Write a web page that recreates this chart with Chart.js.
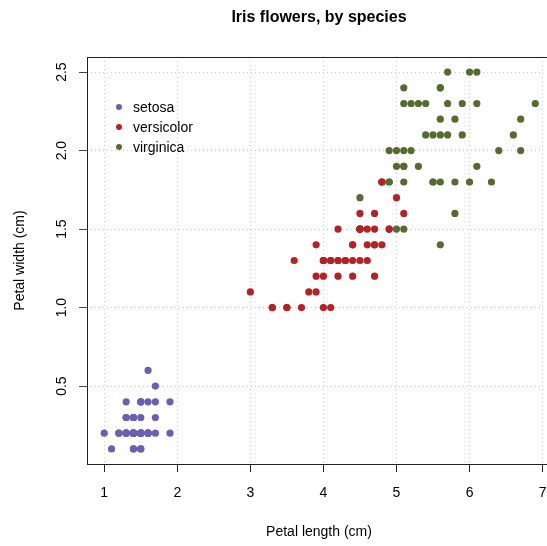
<!DOCTYPE html>
<html>
<head>
<meta charset="utf-8">
<script src="https://cdn.jsdelivr.net/npm/chart.js@4/dist/chart.umd.min.js"></script>
<style>
  html, body { margin: 0; padding: 0; background: #fff; }
  #wrap { width: 547px; height: 546px; }
</style>
</head>
<body>
<div id="wrap"><canvas id="irisChart" width="547" height="546"></canvas></div>
<script>
// petal measurements per species
const setosaLength = [1.4,1.4,1.3,1.5,1.4,1.7,1.4,1.5,1.4,1.5,1.5,1.6,1.4,1.1,1.2,1.5,1.3,1.4,1.7,1.5,1.7,1.5,1.0,1.7,1.9,1.6,1.6,1.5,1.4,1.6,1.6,1.5,1.5,1.4,1.5,1.2,1.3,1.4,1.3,1.5,1.3,1.3,1.3,1.6,1.9,1.4,1.6,1.4,1.5,1.4];
const setosaWidth = [0.2,0.2,0.2,0.2,0.2,0.4,0.3,0.2,0.2,0.1,0.2,0.2,0.1,0.1,0.2,0.4,0.4,0.3,0.3,0.3,0.2,0.4,0.2,0.5,0.2,0.2,0.4,0.2,0.2,0.2,0.2,0.4,0.1,0.2,0.2,0.2,0.2,0.1,0.2,0.2,0.3,0.3,0.2,0.6,0.4,0.3,0.2,0.2,0.2,0.2];
const versicolorLength = [4.7,4.5,4.9,4.0,4.6,4.5,4.7,3.3,4.6,3.9,3.5,4.2,4.0,4.7,3.6,4.4,4.5,4.1,4.5,3.9,4.8,4.0,4.9,4.7,4.3,4.4,4.8,5.0,4.5,3.5,3.8,3.7,3.9,5.1,4.5,4.5,4.7,4.4,4.1,4.0,4.4,4.6,4.0,3.3,4.2,4.2,4.2,4.3,3.0,4.1];
const versicolorWidth = [1.4,1.5,1.5,1.3,1.5,1.3,1.6,1.0,1.3,1.4,1.0,1.5,1.0,1.4,1.3,1.4,1.5,1.0,1.5,1.1,1.8,1.3,1.5,1.2,1.3,1.4,1.4,1.7,1.5,1.0,1.1,1.0,1.2,1.6,1.5,1.6,1.5,1.3,1.3,1.3,1.2,1.4,1.2,1.0,1.3,1.2,1.3,1.3,1.1,1.3];
const virginicaLength = [6.0,5.1,5.9,5.6,5.8,6.6,4.5,6.3,5.8,6.1,5.1,5.3,5.5,5.0,5.1,5.3,5.5,6.7,6.9,5.0,5.7,4.9,6.7,4.9,5.7,6.0,4.8,4.9,5.6,5.8,6.1,6.4,5.6,5.1,5.6,6.1,5.6,5.5,4.8,5.4,5.6,5.1,5.1,5.9,5.7,5.2,5.0,5.2,5.4,5.1];
const virginicaWidth = [2.5,1.9,2.1,1.8,2.2,2.1,1.7,1.8,1.8,2.5,2.0,1.9,2.1,2.0,2.4,2.3,1.8,2.2,2.3,1.5,2.3,2.0,2.0,1.8,2.1,1.8,1.8,1.8,2.1,1.6,1.9,2.0,2.2,1.5,1.4,2.3,2.4,1.8,1.8,2.1,2.4,2.3,1.9,2.3,2.5,2.3,1.9,2.0,2.3,1.8];

const species = ["setosa", "versicolor", "virginica"];
const colors = ["#6a5fb0", "#b22226", "#556b2f"];
const xTicks = [1, 2, 3, 4, 5, 6, 7];
const yTicks = [0.5, 1.0, 1.5, 2.0, 2.5];

const FONT = "'Liberation Sans', Arial, Helvetica, sans-serif";

function toPoints(xs, ys) {
    return xs.map((x, i) => ({ x: x, y: ys[i] }));
}

const seriesData = [
    toPoints(setosaLength, setosaWidth),
    toPoints(versicolorLength, versicolorWidth),
    toPoints(virginicaLength, virginicaWidth)
];

// title, box, rotated y labels, axis titles and legend
const decorPlugin = {
    id: "decor",
    afterDraw(chart) {
        const ctx = chart.ctx;
        const area = chart.chartArea;
        const yScale = chart.scales.y;
        const midX = area.left + 232;
        ctx.save();

        ctx.strokeStyle = "#222";
        ctx.lineWidth = 1;
        ctx.strokeRect(area.left + 0.5, area.top + 0.5, area.right - area.left + 20, area.bottom - area.top);

        ctx.fillStyle = "#000";
        ctx.textAlign = "center";
        ctx.textBaseline = "middle";
        ctx.font = "bold 16px " + FONT;
        ctx.fillText("Iris flowers, by species", midX, 18);

        ctx.font = "14px " + FONT;
        ctx.fillText("Petal length (cm)", midX, 532);

        // y tick labels, rotated like base R
        yTicks.forEach(v => {
            const py = yScale.getPixelForValue(v);
            ctx.save();
            ctx.translate(62, py);
            ctx.rotate(-Math.PI / 2);
            ctx.fillText(v.toFixed(1), 0, 0);
            ctx.restore();
        });

        ctx.save();
        ctx.translate(20, (area.top + area.bottom) / 2);
        ctx.rotate(-Math.PI / 2);
        ctx.fillText("Petal width (cm)", 0, 0);
        ctx.restore();

        // legend
        ctx.textAlign = "left";
        species.forEach((name, i) => {
            const ly = area.top + 50 + i * 20;
            ctx.fillStyle = colors[i];
            ctx.beginPath();
            ctx.arc(area.left + 32, ly, 3, 0, Math.PI * 2);
            ctx.fill();
            ctx.fillStyle = "#000";
            ctx.fillText(name, area.left + 46, ly + 1);
        });

        ctx.restore();
    }
};

const ctx = document.getElementById("irisChart").getContext("2d");

new Chart(ctx, {
    type: "scatter",
    data: {
        datasets: species.map((name, i) => ({
            label: name,
            data: seriesData[i],
            backgroundColor: colors[i],
            borderColor: colors[i],
            borderWidth: 0,
            pointRadius: 3.6,
            pointHoverRadius: 3.6
        }))
    },
    options: {
        responsive: false,
        animation: false,
        events: [],
        layout: { padding: { top: 57, left: 0, right: 0, bottom: 0 } },
        plugins: {
            legend: { display: false },
            title: { display: false },
            tooltip: { enabled: false }
        },
        scales: {
            x: {
                type: "linear",
                min: 0.764,
                max: 7.011,
                afterBuildTicks: scale => { scale.ticks = xTicks.map(v => ({ value: v })); },
                afterFit: scale => {
                    scale.height = 82;
                    scale.paddingLeft = 0;
                    scale.paddingRight = 0;
                },
                grid: {
                    color: "#c8c8c8",
                    tickColor: "#222",
                    tickLength: 8,
                    tickBorderDash: []
                },
                border: { display: false, dash: [1, 3] },
                ticks: {
                    color: "#000",
                    padding: 13,
                    maxRotation: 0,
                    font: { family: FONT, size: 14 },
                    callback: v => String(v)
                }
            },
            y: {
                type: "linear",
                min: 0.004,
                max: 2.596,
                afterBuildTicks: scale => { scale.ticks = yTicks.map(v => ({ value: v })); },
                afterFit: scale => {
                    scale.width = 87;
                    scale.paddingTop = 0;
                    scale.paddingBottom = 0;
                },
                grid: {
                    color: "#c8c8c8",
                    tickColor: "#444",
                    tickLength: 8,
                    tickBorderDash: []
                },
                border: { display: false, dash: [1, 3] },
                ticks: {
                    display: false
                }
            }
        }
    },
    plugins: [decorPlugin]
});
</script>
</body>
</html>
